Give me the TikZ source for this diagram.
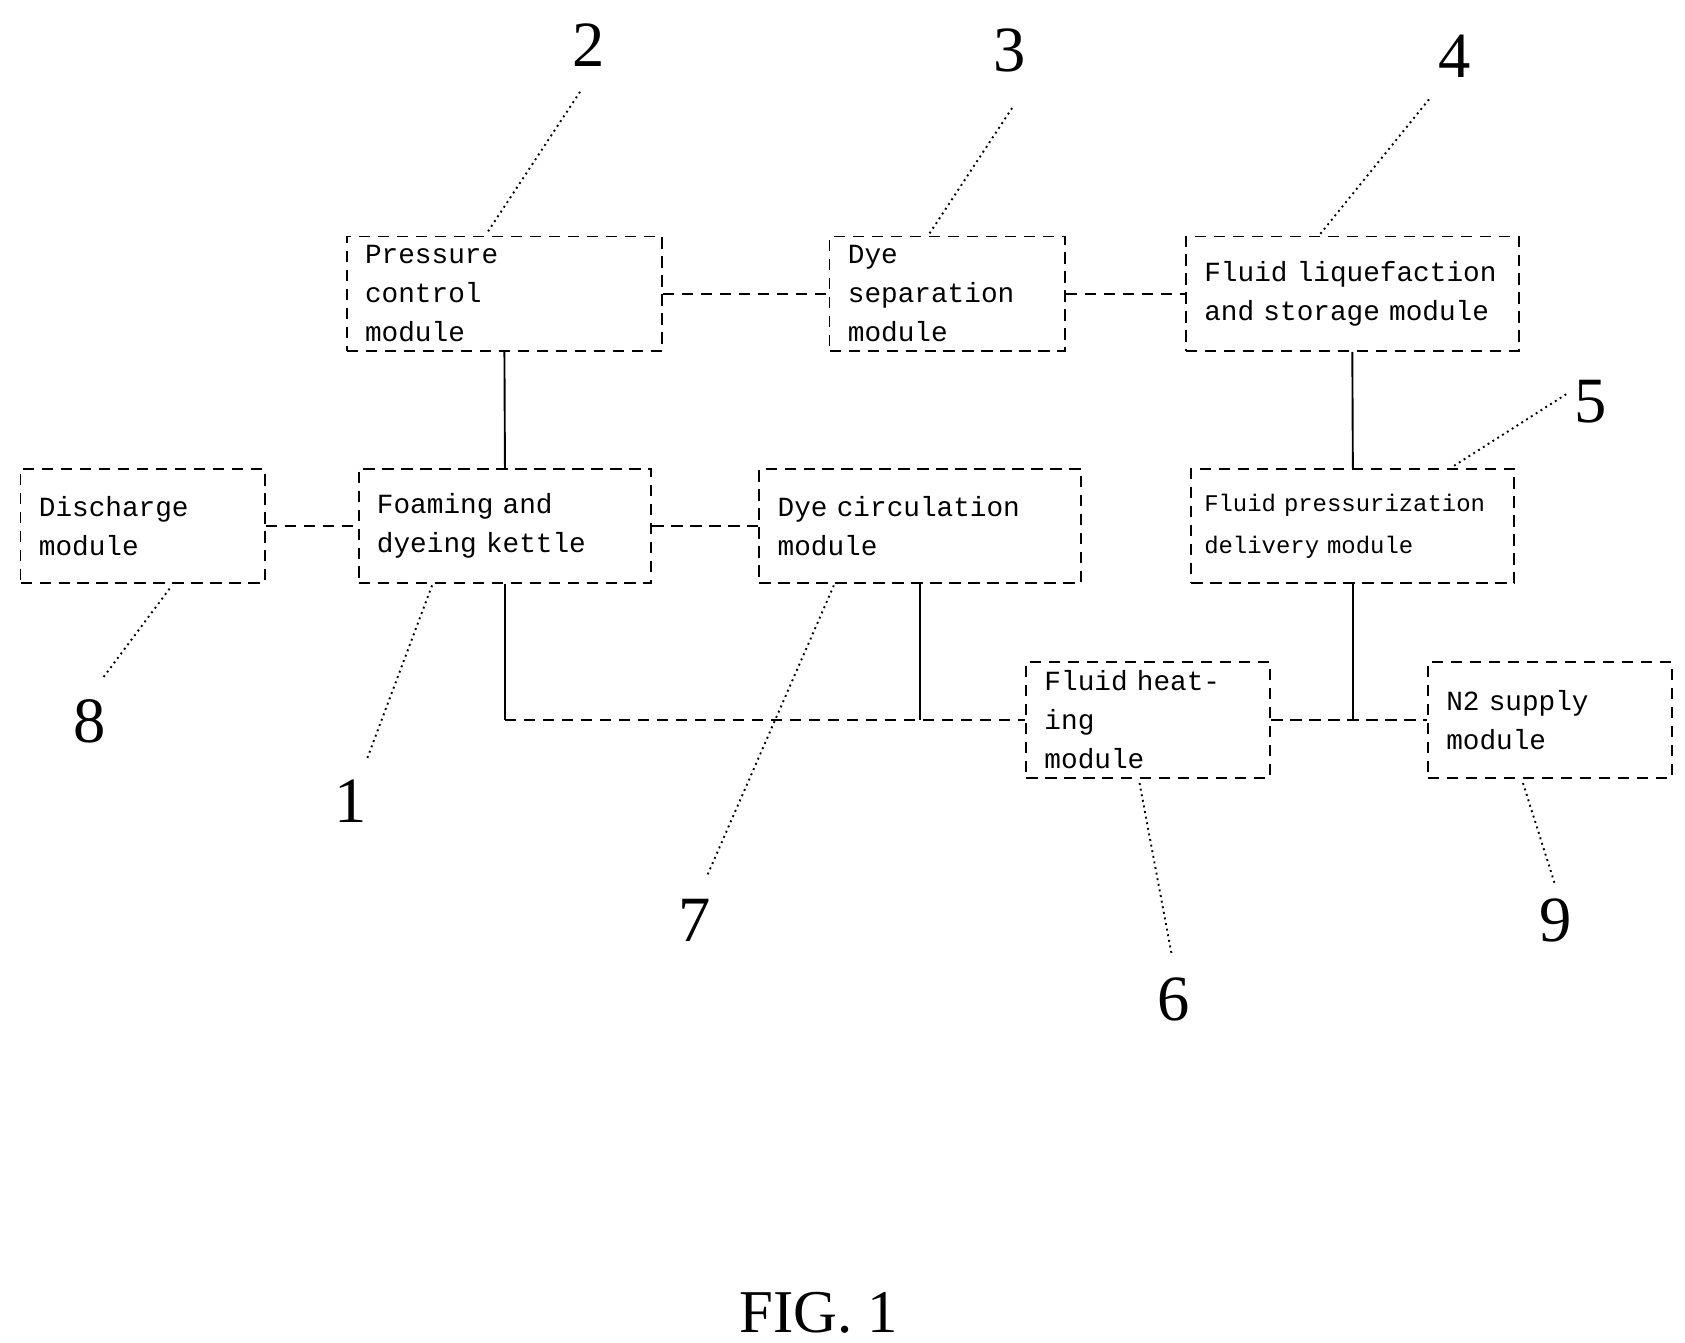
\documentclass[tikz,border=0pt]{standalone}
\usepackage{fontspec}
\setmainfont{Liberation Serif}
\newfontfamily\boxfont{Liberation Mono}
\begin{document}
\begin{tikzpicture}[x=0.01cm,y=-0.01cm,
  box/.style={draw,densely dashed,line width=0.5pt,rectangle,inner sep=0pt,align=left,font=\boxfont\fontsize{7.3pt}{10.3pt}\selectfont},
  dl/.style={densely dashed,line width=0.5pt},
  sl/.style={line width=0.5pt},
  num/.style={font=\fontsize{17pt}{17pt}\selectfont},
  lead/.style={densely dotted,line width=0.5pt}]
\useasboundingbox (0,0) rectangle (1560,1243);
\newcommand{\bx}[6]{%
  \pgfmathsetmacro\bw{(#4-#2)*0.01}%
  \pgfmathsetmacro\bh{(#5-#3)*0.01}%
  \pgfmathsetmacro\tw{(#4-#2-34)*0.01}%
  \node[box,minimum width=\bw cm,minimum height=\bh cm,text width=\tw cm] (#1) at ({(#2+#4)/2},{(#3+#5)/2}) {#6};}
\bx{pc}{321}{219}{613}{325}{Pressure\\control\\module}
\bx{ds}{768}{219}{986}{325}{Dye\\separation\\module}
\bx{fl}{1098}{219}{1406}{325}{Fluid liquefaction\\and storage module}
\bx{dis}{19}{434}{245}{540}{Discharge\\module}
\bx{fk}{332}{434}{603}{540}{Foaming and\\dyeing kettle}
\bx{dc}{703}{434}{1001}{540}{Dye circulation\\module}
\node[box,minimum width=2.99cm,minimum height=1.06cm,text width=2.75cm,font=\boxfont\fontsize{6.3pt}{11pt}\selectfont] (fp) at (1252.5,487) {Fluid pressurization\\delivery module};
\bx{fh}{950}{613}{1176}{720}{Fluid heating\\module}
\bx{n2}{1322}{613}{1548}{720}{N2 supply\\module}
% connectors
\draw[dl] (pc.east) -- (ds.west);
\draw[dl] (ds.east) -- (fl.west);
\draw[sl] (pc.south) -- (fk.north);
\draw[dl] (dis.east) -- (fk.west);
\draw[dl] (fk.east) -- (dc.west);
\draw[sl] (fl.south) -- (fp.north);
\coordinate (j1) at (fk.south |- fh.west);
\coordinate (j2) at (dc.south |- fh.west);
\coordinate (j3) at (fp.south |- fh.west);
\draw[sl] (fk.south) -- (j1);
\draw[dl] (j1) -- (j2) -- (fh.west);
\draw[sl] (dc.south) -- (j2);
\draw[dl] (fh.east) -- (n2.west);
\draw[sl] (fp.south) -- (j3);
% labels
\node[num] (l2) at (545,42) {2};
\node[num] (l3) at (935,47) {3};
\node[num] (l4) at (1347,52) {4};
\node[num] (l5) at (1473,372) {5};
\node[num] (l8) at (83,668) {8};
\node[num] (l1) at (325,742) {1};
\node[num] (l7) at (643,852) {7};
\node[num] (l6) at (1087,925) {6};
\node[num] (l9) at (1440,852) {9};
\coordinate (t2) at (450,217); \draw[lead] (537,85) -- (t2);
\coordinate (t3) at (860,217); \draw[lead] (937,100) -- (t3);
\coordinate (t4) at (1222,217); \draw[lead] (1323,92) -- (t4);
\coordinate (t5) at (1345,432); \draw[lead] (1450,365) -- (t5);
\coordinate (t8) at (157,545); \draw[lead] (t8) -- (95,628);
\coordinate (t1) at (400,542); \draw[lead] (t1) -- (340,702);
\coordinate (t7) at (772,542); \draw[lead] (t7) -- (655,810);
\coordinate (t6) at (1055,725); \draw[lead] (t6) -- (1085,885);
\coordinate (t9) at (1410,725); \draw[lead] (t9) -- (1440,820);
\node[font=\fontsize{16pt}{16pt}\selectfont] (fig) at (758,1215) {FIG. 1};
\end{tikzpicture}
\end{document}
